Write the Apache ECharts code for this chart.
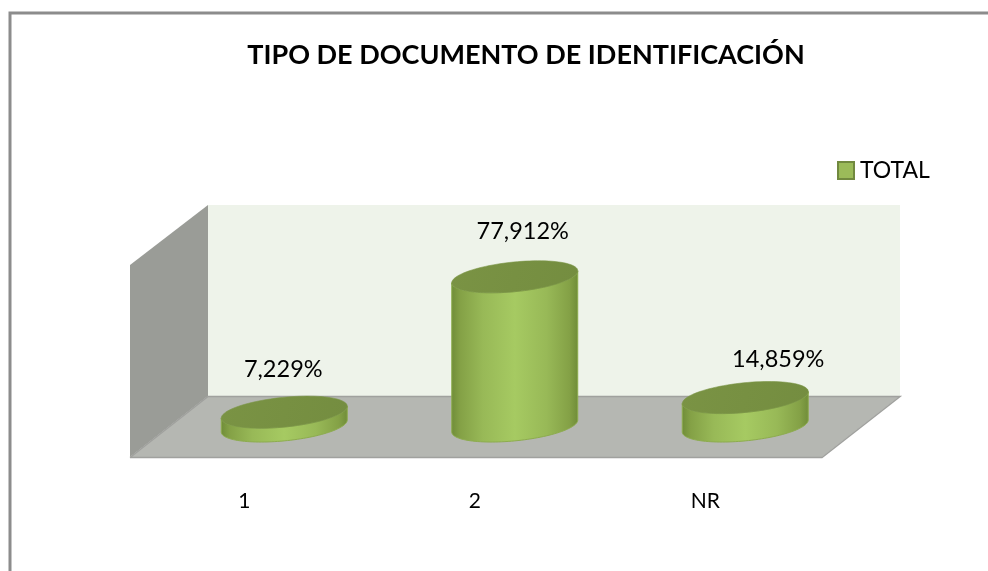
<!DOCTYPE html>
<html><head><meta charset="utf-8">
<style>html,body{margin:0;padding:0;background:#fff}#c{width:988px;height:571px}</style>
<script src="https://cdn.jsdelivr.net/npm/echarts@6/dist/echarts.min.js"></script>
</head><body><div id="c"></div>
<script>
const titleText = 'TIPO DE DOCUMENTO DE IDENTIFICACIÓN';
const seriesName = 'TOTAL';
const categories = ['1', '2', 'NR'];
const values = [7.229, 77.912, 14.859];

const FONT = 'Lato, "Open Sans", sans-serif';
const labelShift = [[-1, -43], [8, -45], [33, -38.5]];
const tilt = 5.75 * Math.PI / 180;

function ellipsePt(cx, cy, a, b, t) {
  const ex = a * Math.cos(t), ey = b * Math.sin(t);
  return [cx + ex * Math.cos(tilt) + ey * Math.sin(tilt), cy - ex * Math.sin(tilt) + ey * Math.cos(tilt)];
}
function renderCylinder(params, api) {
  const i = api.value(0), v = api.value(1);
  const top = api.coord([i, v]), base = api.coord([i, 0]);
  const a = api.size([1, 0])[0] * 0.2746, b = a * 0.234;
  const t0 = Math.atan2(b * Math.sin(tilt), a * Math.cos(tilt));
  const side = [];
  const N = 60;
  for (let k = 0; k <= N; k++) side.push(ellipsePt(base[0], base[1], a, b, t0 + Math.PI * k / N));
  for (let k = 0; k <= N; k++) side.push(ellipsePt(top[0], top[1], a, b, t0 + Math.PI - Math.PI * k / N));
  const cap = [];
  for (let k = 0; k < 96; k++) cap.push(ellipsePt(top[0], top[1], a, b, 2 * Math.PI * k / 96));
  const bodyFill = new echarts.graphic.LinearGradient(0, 0, 1, 0, [
    { offset: 0, color: '#6f8c38' },
    { offset: 0.07, color: '#84a146' },
    { offset: 0.25, color: '#98b957' },
    { offset: 0.5, color: '#a6ca62' },
    { offset: 0.75, color: '#98b957' },
    { offset: 0.93, color: '#84a146' },
    { offset: 1, color: '#6f8c38' }
  ]);
  const capFill = new echarts.graphic.LinearGradient(0, 0, 1, 1, [
    { offset: 0, color: '#7a9344' },
    { offset: 1, color: '#748d40' }
  ]);
  return {
    type: 'group',
    children: [
      { type: 'polygon', shape: { points: side }, style: { fill: bodyFill, stroke: '#8dac4e', lineWidth: 1 } },
      { type: 'polygon', shape: { points: cap }, style: { fill: capFill, stroke: '#7b9546', lineWidth: 0.6 } },
      { type: 'text', style: {
          x: top[0] + labelShift[i][0], y: top[1] + labelShift[i][1],
          text: v.toFixed(3).replace('.', ',') + '%',
          font: '23.5px ' + FONT, fill: '#000', align: 'center', verticalAlign: 'middle' } }
    ]
  };
}

const chart = echarts.init(document.getElementById('c'), null, { renderer: 'canvas' });
chart.setOption({
  animation: false,
  backgroundColor: '#fff',
  title: {
    text: titleText, left: 521, top: 37, textAlign: 'center',
    textStyle: { fontFamily: FONT, fontSize: 27, fontWeight: 'bold', color: '#000' }
  },
  legend: {
    left: 837, top: 159, padding: 0, itemWidth: 16, itemHeight: 17, itemGap: 6,
    icon: 'rect',
    data: [seriesName],
    textStyle: { fontFamily: FONT, fontSize: 23, color: '#000', padding: [0, 0, 0, 1] },
    itemStyle: { color: '#9bbb59', borderColor: '#71893f', borderWidth: 2 }
  },
  grid: { left: 169, top: 234.5, width: 691.5, height: 191.5 },
  xAxis: {
    type: 'category', data: categories,
    axisLine: { show: false }, axisTick: { show: false }, splitLine: { show: false },
    axisLabel: { margin: 65, padding: [0, 80, 0, 0], fontFamily: FONT, fontSize: 21, color: '#000' }
  },
  yAxis: { type: 'value', min: 0, max: 100, show: false },
  graphic: { elements: [
    { type: 'polyline', z: 0, shape: { points: [[10, 571], [10, 13], [988, 13]] }, style: { fill: null, stroke: '#8c8c8c', lineWidth: 3 } },
    { type: 'polygon', z: 0, shape: { points: [[208, 205], [900, 205], [900, 396], [208, 396]] }, style: { fill: '#eef3ea' } },
    { type: 'polygon', z: 0, shape: { points: [[130, 265], [208, 205], [208, 396], [130, 457]] }, style: { fill: '#9a9c97' } },
    { type: 'polygon', z: 0, shape: { points: [[130, 457], [208, 396], [900, 396], [822, 457]] }, style: { fill: '#b5b7b2' } },
    { type: 'polyline', z: 0, shape: { points: [[130, 457.5], [822, 457.5], [900, 396.5], [208, 396.5], [130, 457.5]] }, style: { fill: null, stroke: '#a0a19e', lineWidth: 1.5 } }
  ] },
  series: [{
    type: 'custom', name: seriesName, clip: false, z: 5,
    coordinateSystem: 'cartesian2d',
    itemStyle: { color: '#9bbb59' },
    encode: { x: 0, y: 1 },
    data: values.map((v, i) => [i, v]),
    renderItem: renderCylinder
  }]
});
</script></body></html>
